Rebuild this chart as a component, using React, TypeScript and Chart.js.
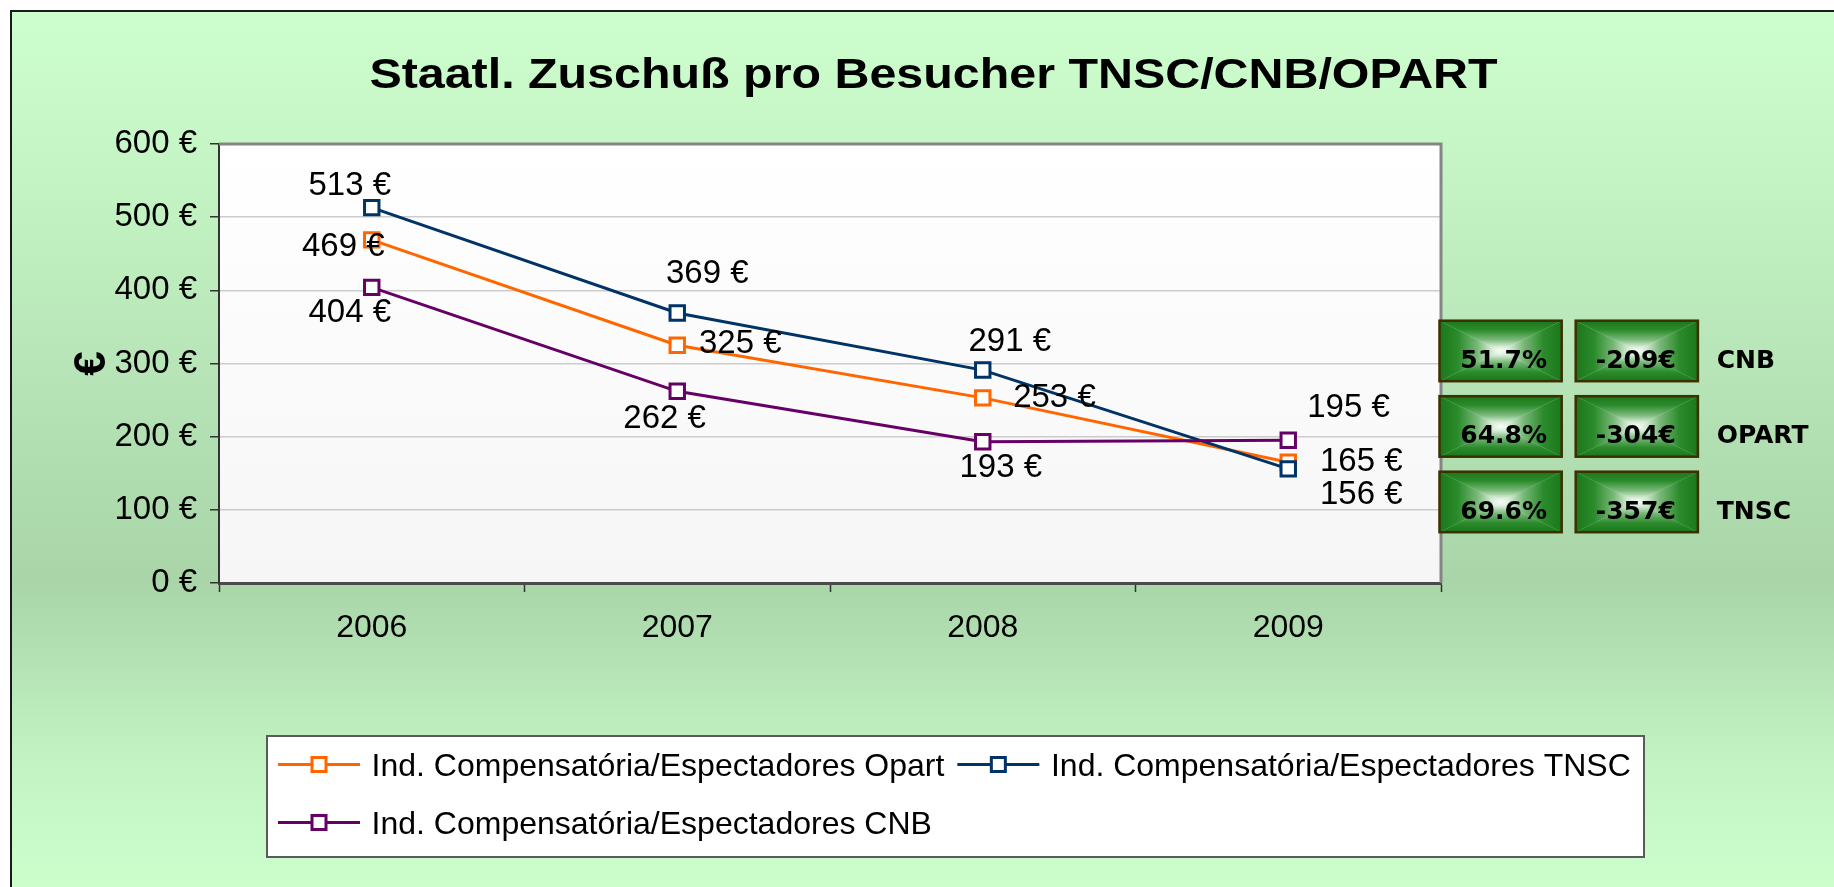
import React, { useEffect, useRef } from 'react';
import { Chart, registerables } from 'chart.js';

Chart.register(...registerables);

// ---------- data ----------
const years = ['2006', '2007', '2008', '2009'];
const opartValues = [469, 325, 253, 165];
const tnscValues = [513, 369, 291, 156];
const cnbValues = [404, 262, 193, 195];
const seriesLabels = [
  'Ind. Compensatória/Espectadores Opart',
  'Ind. Compensatória/Espectadores TNSC',
  'Ind. Compensatória/Espectadores CNB',
];
const yMin = 0;
const yMax = 600;
const yStep = 100;
const titleText = 'Staatl. Zuschuß pro Besucher TNSC/CNB/OPART';
const yAxisTitle = '€';
const summaryNames = ['CNB', 'OPART', 'TNSC'];
const summaryShares = ['51.7%', '64.8%', '69.6%'];
const summaryDiffs = ['-209€', '-304€', '-357€'];

// ---------- styles ----------
const seriesColors = ['#ff6600', '#003366', '#660066'];
const seriesOrder = [2, 1, 0];
// data label offsets (dx, dy of text centre from marker), per series / point
const labelOffsets = [
  [[-28.5, 4.5], [63, -4.4], [71.7, -3], [73, -2.6]],
  [[-22, -24.6], [30, -41.4], [27, -31], [73, 23.8]],
  [[-22, 23], [-12.6, 24.5], [18, 23.6], [60.3, -35]],
];
const FONT = '"Liberation Sans", Arial, sans-serif';

Chart.defaults.font.family = FONT;

const backgroundPlugin = {
  id: 'bgPlugin',
  beforeDraw(chart: any) {
    const { ctx, width, height, chartArea } = chart;
    ctx.save();
    ctx.fillStyle = '#ffffff';
    ctx.fillRect(0, 0, width, height);
    const g = ctx.createLinearGradient(0, 10, 0, height);
    g.addColorStop(0, '#cdfecd');
    g.addColorStop(0.12, '#c8f8c8');
    g.addColorStop(0.65, '#a9d5a9');
    g.addColorStop(0.86, '#c3f3c3');
    g.addColorStop(1, '#ccfecc');
    ctx.fillStyle = g;
    ctx.fillRect(10, 10, width - 10, height - 10);
    ctx.strokeStyle = '#1a1a1a';
    ctx.lineWidth = 2;
    ctx.beginPath();
    ctx.moveTo(11, height);
    ctx.lineTo(11, 11);
    ctx.lineTo(width, 11);
    ctx.stroke();
    // plot area background
    const pg = ctx.createLinearGradient(0, chartArea.top, 0, chartArea.bottom);
    pg.addColorStop(0, '#ffffff');
    pg.addColorStop(1, '#f6f6f6');
    ctx.fillStyle = pg;
    ctx.fillRect(chartArea.left, chartArea.top, chartArea.right - chartArea.left, chartArea.bottom - chartArea.top);
    ctx.restore();
  },
  beforeDatasetsDraw(chart: any) {
    const { ctx, chartArea } = chart;
    ctx.save();
    ctx.strokeStyle = '#858585';
    ctx.lineWidth = 3;
    ctx.beginPath();
    ctx.moveTo(chartArea.left, chartArea.top);
    ctx.lineTo(chartArea.right, chartArea.top);
    ctx.lineTo(chartArea.right, chartArea.bottom);
    ctx.stroke();
    ctx.restore();
  },
};

const dataLabelPlugin = {
  id: 'dataLabels',
  afterDatasetsDraw(chart: any) {
    const { ctx } = chart;
    const size = 33;
    ctx.save();
    ctx.font = `${size}px ${FONT}`;
    ctx.fillStyle = '#000';
    ctx.textAlign = 'center';
    ctx.textBaseline = 'alphabetic';
    chart.data.datasets.forEach((ds: any, i: number) => {
      const meta = chart.getDatasetMeta(i);
      meta.data.forEach((pt: any, j: number) => {
        const [dx, dy] = labelOffsets[i][j];
        ctx.fillText(`${ds.data[j]} €`, pt.x + dx, pt.y + dy + 0.358 * size);
      });
    });
    ctx.restore();
  },
};

function drawGradBox(ctx: CanvasRenderingContext2D, x: number, y: number, w: number, h: number) {
  const cx = x + w / 2;
  const cy = y + h / 2;
  const stops = (g: CanvasGradient) => {
    g.addColorStop(0, '#1b771b');
    g.addColorStop(0.3, '#2b8b2b');
    g.addColorStop(0.62, '#78b778');
    g.addColorStop(0.85, '#d4ebd4');
    g.addColorStop(1, '#ffffff');
    return g;
  };
  const tri = (pts: number[][], g: CanvasGradient) => {
    ctx.beginPath();
    ctx.moveTo(pts[0][0], pts[0][1]);
    ctx.lineTo(pts[1][0], pts[1][1]);
    ctx.lineTo(pts[2][0], pts[2][1]);
    ctx.closePath();
    ctx.fillStyle = g;
    ctx.fill();
  };
  tri([[x, y], [x + w, y], [cx, cy]], stops(ctx.createLinearGradient(cx, y, cx, cy)));
  tri([[x, y + h], [x + w, y + h], [cx, cy]], stops(ctx.createLinearGradient(cx, y + h, cx, cy)));
  tri([[x, y], [x, y + h], [cx, cy]], stops(ctx.createLinearGradient(x, cy, cx, cy)));
  tri([[x + w, y], [x + w, y + h], [cx, cy]], stops(ctx.createLinearGradient(x + w, cy, cx, cy)));
  ctx.strokeStyle = '#3a3000';
  ctx.lineWidth = 2.5;
  ctx.strokeRect(x, y, w, h);
}

const overlayPlugin = {
  id: 'overlay',
  afterDraw(chart: any) {
    const { ctx, chartArea } = chart;
    ctx.save();
    // title (horizontally stretched like the original)
    ctx.save();
    ctx.translate(933.5, 88);
    ctx.scale(1.152, 1);
    ctx.font = `bold 42px ${FONT}`;
    ctx.fillStyle = '#000';
    ctx.textAlign = 'center';
    ctx.textBaseline = 'alphabetic';
    ctx.fillText(titleText, 0, 0);
    ctx.restore();

    // summary boxes
    const bx1 = chartArea.right - 1.5;
    const bx2 = chartArea.right + 134.7;
    const lx = chartArea.right + 275.7;
    const bw = 122.2;
    const bh = 60.5;
    const top0 = chartArea.top + 176.7;
    const pitch = 75.5;
    summaryNames.forEach((name, i) => {
      const by = top0 + i * pitch;
      drawGradBox(ctx, bx1, by, bw, bh);
      drawGradBox(ctx, bx2, by, bw, bh);
      ctx.font = 'bold 25px "DejaVu Sans", Verdana, sans-serif';
      ctx.fillStyle = '#000';
      ctx.textBaseline = 'alphabetic';
      ctx.textAlign = 'center';
      const base = by + bh / 2 + 17;
      ctx.fillText(summaryShares[i], bx1 + bw / 2 + 3, base);
      ctx.fillText(summaryDiffs[i], bx2 + bw / 2 - 1, base);
      ctx.textAlign = 'left';
      ctx.fillText(name, lx, base);
    });

    // legend
    const lgX = 267, lgY = 736, lgW = 1377, lgH = 121;
    ctx.fillStyle = '#ffffff';
    ctx.fillRect(lgX, lgY, lgW, lgH);
    ctx.strokeStyle = '#5a5a5a';
    ctx.lineWidth = 2;
    ctx.strokeRect(lgX, lgY, lgW, lgH);
    ctx.font = `32px ${FONT}`;
    ctx.textBaseline = 'alphabetic';
    ctx.textAlign = 'left';
    let x = lgX + 11;
    let row = 0;
    chart.data.datasets.forEach((ds: any) => {
      const tw = ctx.measureText(ds.label).width;
      const itemW = 82 + 11.6 + tw;
      if (x + itemW > lgX + lgW - 4) {
        row += 1;
        x = lgX + 11;
      }
      const y = 764.5 + row * 58;
      ctx.strokeStyle = ds.borderColor;
      ctx.lineWidth = 3;
      ctx.beginPath();
      ctx.moveTo(x, y);
      ctx.lineTo(x + 82, y);
      ctx.stroke();
      ctx.fillStyle = '#fff';
      ctx.fillRect(x + 41 - 7, y - 7, 14, 14);
      ctx.strokeRect(x + 41 - 7, y - 7, 14, 14);
      ctx.fillStyle = '#000';
      ctx.fillText(ds.label, x + 93.6, y + 0.358 * 32);
      x += itemW + 13;
    });
    ctx.restore();
  },
};

export default function App() {
  const ref = useRef<HTMLCanvasElement>(null);
  useEffect(() => {
    const canvas = ref.current;
    if (!canvas) return;
    const seriesValues = [opartValues, tnscValues, cnbValues];
    const chart = new Chart(canvas, {
      type: 'line',
      data: {
        labels: years,
        datasets: seriesValues.map((vals, i) => ({
          label: seriesLabels[i],
          data: vals,
          borderColor: seriesColors[i],
          backgroundColor: '#ffffff',
          borderWidth: 3,
          tension: 0,
          pointStyle: 'rect',
          pointRadius: 10.2,
          pointBorderWidth: 3,
          pointBackgroundColor: '#ffffff',
          pointBorderColor: seriesColors[i],
          order: seriesOrder[i],
        })),
      },
      options: {
        responsive: false,
        animation: false,
        events: [],
        layout: { padding: { left: 66, top: 144, right: 393, bottom: 240 } },
        plugins: {
          legend: { display: false },
          title: { display: false },
          tooltip: { enabled: false },
        },
        scales: {
          x: {
            type: 'category',
            offset: true,
            afterFit(scale: any) { scale.height = 64; },
            grid: {
              display: true,
              offset: true,
              drawOnChartArea: false,
              drawTicks: true,
              tickLength: 9,
              tickColor: '#333333',
              tickWidth: 1.5,
            },
            border: { display: true, color: '#4a4a4a', width: 3 },
            ticks: { color: '#000', padding: 17, font: { size: 32 } },
          },
          y: {
            min: yMin,
            max: yMax,
            afterFit(scale: any) { scale.width = 153; },
            ticks: {
              stepSize: yStep,
              color: '#000',
              padding: 13,
              font: { size: 33 },
              callback: (v: any) => `${v} €`,
            },
            grid: {
              color: '#cccccc',
              lineWidth: 1.5,
              drawTicks: true,
              tickLength: 9,
              tickColor: '#333333',
              tickWidth: 1.5,
            },
            border: { display: true, color: '#333333', width: 2 },
            title: {
              display: true,
              text: yAxisTitle,
              color: '#000',
              font: { size: 44, weight: 'bold' },
              padding: { top: 0, bottom: 4 },
            },
          },
        },
      },
      plugins: [backgroundPlugin, dataLabelPlugin, overlayPlugin],
    } as any);
    return () => chart.destroy();
  }, []);
  return (
    <div style={{ position: 'fixed', left: 0, top: 0, width: 1834, height: 887, background: '#fff' }}>
      <canvas ref={ref} width={1834} height={887} style={{ display: 'block' }} />
    </div>
  );
}
